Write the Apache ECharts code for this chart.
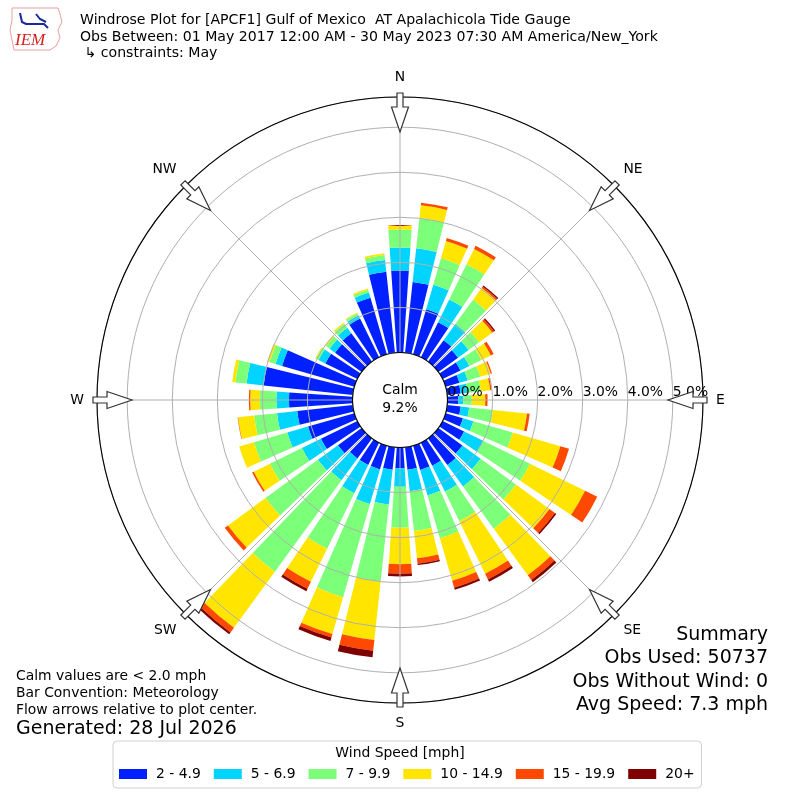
<!DOCTYPE html>
<html><head><meta charset="utf-8">
<script src="https://cdn.jsdelivr.net/npm/echarts@6/dist/echarts.min.js"></script>
<style>html,body{margin:0;padding:0;background:#fff}#c{width:800px;height:800px}</style>
</head><body><div id="c"></div>
<script>
// ---- data ----
const directions = [0,10,20,30,40,50,60,70,80,90,100,110,120,130,140,150,160,170,180,190,200,210,220,230,240,250,260,270,280,290,300,310,320,330,340,350];
const speedBins = ['2 - 4.9','5 - 6.9','7 - 9.9','10 - 14.9','15 - 19.9','20+'];
const bin2to5   = [1.82,1.58,1.04,0.87,0.59,0.54,0.44,0.32,0.30,0.24,0.30,0.40,0.53,0.66,0.73,0.57,0.56,0.50,0.46,0.50,0.55,0.55,0.55,0.65,0.90,1.07,1.24,1.41,1.99,1.67,0.79,0.73,0.78,0.96,1.31,1.81];
const bin5to7   = [0.51,0.75,0.57,0.56,0.44,0.29,0.22,0.19,0.15,0.11,0.19,0.24,0.47,0.50,0.59,0.64,0.59,0.48,0.41,0.78,0.80,0.70,0.60,0.55,0.47,0.48,0.45,0.28,0.38,0.15,0.17,0.15,0.15,0.08,0.12,0.26];
const bin7to10  = [0.40,0.68,0.61,0.87,0.67,0.29,0.30,0.29,0.30,0.19,0.53,0.91,1.16,0.97,1.16,0.73,0.99,0.89,0.91,1.72,2.15,1.37,2.51,1.44,0.79,0.77,0.51,0.37,0.25,0.14,0.06,0.10,0.11,0.05,0.06,0.11];
const bin10to15 = [0.09,0.28,0.40,0.38,0.32,0.36,0.23,0.24,0.21,0.30,0.76,1.10,1.36,0.92,1.28,1.30,0.98,0.61,0.81,1.30,0.85,0.82,1.54,1.03,0.40,0.34,0.36,0.21,0.07,0.05,0.02,0.03,0.03,0.02,0.03,0.04];
const bin15to20 = [0.01,0.06,0.07,0.08,0.04,0.05,0.07,0.03,0.03,0.05,0.06,0.20,0.30,0.15,0.13,0.14,0.16,0.12,0.21,0.24,0.08,0.17,0.13,0.09,0.04,0.00,0.01,0.03,0.00,0.00,0.00,0.00,0.00,0.00,0.00,0.00];
const bin20plus = [0,0,0,0,0.03,0.03,0,0,0,0,0,0,0,0.04,0.06,0.06,0.05,0.03,0.06,0.15,0.08,0.06,0.05,0,0,0,0,0,0,0,0,0,0,0,0,0];
const radiusMax = 5.67;           // outer edge of the rose, in percent
const radiusTickStep = 1;
const compassLabels = ['N','NE','E','SE','S','SW','W','NW'];
const compassAngles = [0,45,90,135,180,225,270,315];
const calmPercent = 9.2;
const obsUsed = 50737;
const obsWithoutWind = 0;
const avgSpeed = 7.3;

// ---- style ----
const binData = [bin2to5, bin5to7, bin7to10, bin10to15, bin15to20, bin20plus];
const binColors = ['#0020ff','#00d4ff','#7cff79','#ffe500','#ff4800','#800000'];
const FONT = 'DejaVu Sans';
const CENTER = [400, 400];
const RADII = [47.5, 303];
const GRID = '#b0b0b0';

const chart = echarts.init(document.getElementById('c'), null, {renderer: 'canvas'});

const barSeries = speedBins.map((name, i) => ({
  type: 'bar', name: name, coordinateSystem: 'polar', polarIndex: 0,
  stack: 'wind', data: binData[i], barCategoryGap: '22%',
  itemStyle: {color: binColors[i]}, z: 2, silent: true,
  emphasis: {disabled: true}
}));

const arrowSeries = {
  type: 'custom', coordinateSystem: 'polar', polarIndex: 1, z: 20, silent: true,
  data: compassAngles.map(a => [radiusMax, a]),
  renderItem: function (params, api) {
    const ang = api.value(1);
    const outer = api.coord([api.value(0), ang]);
    const inner = api.coord([0, ang]);
    const dx = inner[0] - outer[0], dy = inner[1] - outer[1];
    const len = Math.hypot(dx, dy);
    const ux = dx / len, uy = dy / len, vx = -uy, vy = ux;
    const P = (d, w) => [outer[0] + ux * d + vx * w, outer[1] + uy * d + vy * w];
    return {
      type: 'polygon',
      shape: {points: [P(-4, -3), P(10, -3), P(10, -8.5), P(35, 0), P(10, 8.5), P(10, 3), P(-4, 3)]},
      style: {fill: '#fff', stroke: '#333', lineWidth: 1.2}
    };
  }
};

const txt = (x, y, text, size, opts) => Object.assign({
  type: 'text', x: x, y: y, z: 100, silent: true,
  style: Object.assign({text: text, font: size + 'px "' + FONT + '"', fill: '#000', align: 'left', verticalAlign: 'middle'}, (opts || {}))
});

const option = {
  animation: false,
  backgroundColor: '#fff',
  polar: [
    {center: CENTER, radius: RADII},
    {center: CENTER, radius: RADII},
    {center: CENTER, radius: RADII}
  ],
  angleAxis: [
    {polarIndex: 0, type: 'category', data: directions.map(String), startAngle: 95, clockwise: true,
     boundaryGap: true, axisLine: {show: false}, axisTick: {show: false}, axisLabel: {show: false},
     splitLine: {show: false}, splitArea: {show: false}},
    {polarIndex: 1, type: 'value', min: 0, max: 360, interval: 45, startAngle: 90, clockwise: true, z: 10,
     axisLine: {show: true, lineStyle: {color: '#000', width: 1.1}},
     axisTick: {show: false},
     axisLabel: {show: true, margin: 13, fontSize: 13.9, fontFamily: FONT, color: '#000',
       formatter: v => (v >= 360 ? '' : compassLabels[compassAngles.indexOf(v)])},
     splitLine: {show: true, lineStyle: {color: GRID, width: 1}}},
    {polarIndex: 2, type: 'value', min: 0, max: 360, startAngle: 0, clockwise: true, show: false}
  ],
  radiusAxis: [
    {polarIndex: 0, type: 'value', min: 0, max: radiusMax, show: false},
    {polarIndex: 1, type: 'value', min: 0, max: radiusMax, interval: radiusTickStep, z: 10,
     axisLine: {show: false}, axisTick: {show: false}, axisLabel: {show: false},
     splitLine: {show: true, lineStyle: {color: GRID, width: 1}}},
    {polarIndex: 2, type: 'value', min: 0, max: radiusMax, interval: radiusTickStep, z: 11,
     axisLine: {show: false}, axisTick: {show: false}, splitLine: {show: false},
     axisLabel: {show: true, margin: 1, align: 'left', verticalAlign: 'bottom', fontSize: 13.9,
       fontFamily: FONT, color: '#000',
       formatter: v => (Math.abs(v - Math.round(v)) < 1e-9 ? v.toFixed(1) + '%' : '')}}
  ],
  legend: {
    left: 113, top: 741, orient: 'horizontal', data: speedBins, selectedMode: false,
    icon: 'rect', itemWidth: 28, itemHeight: 10, itemGap: 13,
    padding: [26, 7, 7, 6], borderColor: '#d0d0d0', borderWidth: 1, borderRadius: 4,
    textStyle: {fontSize: 13.9, fontFamily: FONT, color: '#000', padding: [0, 0, 0, 4]}
  },
  series: barSeries.concat([arrowSeries]),
  graphic: [
    // logo (approximation)
    {type: 'polyline', z: 100, silent: true, shape: {points: [[12,8],[58,8],[60,14],[62,22],[58,30],[60,38],[56,46],[50,50],[14,50],[12,40],[10,30],[12,20],[12,8]]},
     style: {stroke: '#e8a0a0', fill: null, lineWidth: 1}},
    {type: 'polyline', z: 100, silent: true, shape: {points: [[20,13],[22,22],[26,24],[44,24],[48,28]]}, style: {stroke: '#1a2a9a', fill: null, lineWidth: 2}},
    {type: 'polyline', z: 100, silent: true, shape: {points: [[36,14],[40,19],[46,22]]}, style: {stroke: '#1a2a9a', fill: null, lineWidth: 2}},
    txt(15, 41, 'IEM', 17, {font: 'italic 17px "Liberation Serif"', fill: '#d42020'}),
    // header
    txt(80, 20, 'Windrose Plot for [APCF1] Gulf of Mexico  AT Apalachicola Tide Gauge', 14.1),
    txt(80, 37, 'Obs Between: 01 May 2017 12:00 AM - 30 May 2023 07:30 AM America/New_York', 14.1),
    txt(80, 53.5, ' \u21b3 constraints: May', 14.1),
    // calm
    txt(400, 399, 'Calm\n' + calmPercent.toFixed(1) + '%', 13.9, {align: 'center', lineHeight: 18}),
    // notes
    txt(16, 693, 'Calm values are < 2.0 mph\nBar Convention: Meteorology\nFlow arrows relative to plot center.', 13.9, {lineHeight: 17}),
    txt(16, 729, 'Generated: 28 Jul 2026', 19),
    // summary
    txt(768, 670, 'Summary\nObs Used: ' + obsUsed + '\nObs Without Wind: ' + obsWithoutWind + '\nAvg Speed: ' + avgSpeed.toFixed(1) + ' mph', 19, {align: 'right', lineHeight: 23.3}),
    // legend title
    txt(400, 753, 'Wind Speed [mph]', 13.9, {align: 'center'})
  ]
};
chart.setOption(option);
</script>
</body></html>
